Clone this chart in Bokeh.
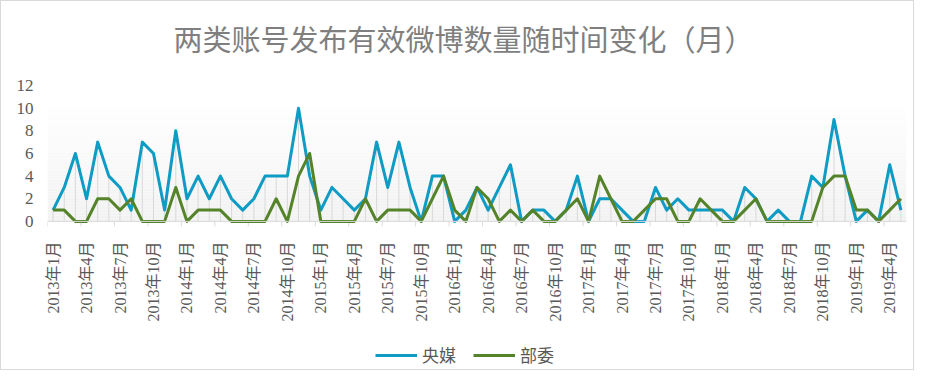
import math
from bokeh.plotting import figure
from bokeh.layouts import column
from bokeh.models import (FixedTicker, Legend, LegendItem, Span, Label)
from bokeh.embed import file_html
from bokeh.resources import INLINE

# ---- data -------------------------------------------------------------
months = list(range(77))  # 2013年1月 ... 2019年5月 (month index)
yangmei = [1, 3, 6, 2, 7, 4, 3, 1, 7, 6, 1, 8, 2, 4, 2, 4, 2, 1, 2, 4, 4, 4, 10, 4,
           1, 3, 2, 1, 2, 7, 3, 7, 3, 0, 4, 4, 0, 1, 3, 1, 3, 5, 0, 1, 1, 0, 1, 4,
           0, 2, 2, 1, 0, 0, 3, 1, 2, 1, 1, 1, 1, 0, 3, 2, 0, 1, 0, 0, 4, 3, 9, 4,
           0, 1, 0, 5, 1]
buwei = [1, 1, 0, 0, 2, 2, 1, 2, 0, 0, 0, 3, 0, 1, 1, 1, 0, 0, 0, 0, 2, 0, 4, 6,
         0, 0, 0, 0, 2, 0, 1, 1, 1, 0, 2, 4, 1, 0, 3, 2, 0, 1, 0, 1, 0, 0, 1, 2,
         0, 4, 2, 0, 0, 1, 2, 2, 0, 0, 2, 1, 0, 0, 1, 2, 0, 0, 0, 0, 0, 3, 4, 4,
         1, 1, 0, 1, 2]
tick_idx = [0, 3, 6, 9, 12, 15, 18, 21, 24, 27, 30, 33, 36, 39, 42, 45, 48, 51,
            54, 57, 60, 63, 66, 69, 72, 75]
tick_labels = ["2013年1月", "2013年4月", "2013年7月", "2013年10月",
               "2014年1月", "2014年4月", "2014年7月", "2014年10月",
               "2015年1月", "2015年4月", "2015年7月", "2015年10月",
               "2016年1月", "2016年4月", "2016年7月", "2016年10月",
               "2017年1月", "2017年4月", "2017年7月", "2017年10月",
               "2018年1月", "2018年4月", "2018年7月", "2018年10月",
               "2019年1月", "2019年4月"]
y_ticks = [0, 2, 4, 6, 8, 10, 12]
series_names = ["央媒", "部委"]
title_text = "两类账号发布有效微博数量随时间变化（月）"

BLUE = "#0E9BC4"
GREEN = "#55832A"
GRAY_TXT = "#595959"
SERIF = "Liberation Serif, Noto Sans CJK SC"
SANS = "Noto Sans CJK SC"

x_lo, x_hi = -0.5, len(months) - 0.5


def strip(h):
    f = figure(width=912, height=h, output_backend="svg", toolbar_location=None,
               x_range=(0, 1), y_range=(0, 1), x_axis_location=None,
               y_axis_location=None, min_border=0)
    f.outline_line_color = None
    f.xgrid.visible = False
    f.ygrid.visible = False
    f.border_fill_color = "white"
    f.background_fill_color = "white"
    return f


# ---- title strip ----------------------------------------------------------
t = strip(60)
t.add_layout(Label(x=416, y=24, x_units="screen", y_units="screen", text=title_text,
                   text_align="center", text_baseline="middle", text_font=SANS,
                   text_font_size="29px", text_color="#7f7f7f"))

# ---- main chart -----------------------------------------------------------
p = figure(width=912, height=264, output_backend="svg", toolbar_location=None,
           x_range=(x_lo, x_hi), y_range=(-0.45, 12),
           min_border_left=46, min_border_right=7, min_border_top=24,
           min_border_bottom=99)
p.outline_line_color = None
p.background_fill_color = "white"
p.border_fill_color = "white"
p.xgrid.visible = False
p.ygrid.visible = False

# gradient plot-area background (style only)
n_bands = 40
g_top = 10.6
bx0, bx1, by0, by1, bcol = [], [], [], [], []
for k in range(n_bands):
    tt = k / (n_bands - 1)
    c = int(round(0xF2 + (0xFF - 0xF2) * tt))
    bx0.append(x_lo); bx1.append(x_hi)
    by0.append(g_top * k / n_bands); by1.append(g_top * (k + 1) / n_bands)
    bcol.append("#%02x%02x%02x" % (c, c, c))
p.quad(left=bx0, right=bx1, bottom=by0, top=by1, fill_color=bcol, line_color=None)

# drop lines
tops = [max(a, b) for a, b in zip(yangmei, buwei)]
p.segment(x0=months, y0=[0] * len(months), x1=months, y1=tops,
          line_color="#d9d9d9", line_width=1)

# category axis line and boundary tick marks
p.add_layout(Span(location=0, dimension="width", line_color="#d9d9d9", line_width=1))
tb = [v - 0.5 for v in tick_idx] + [tick_idx[-1] + 2.5]
p.segment(x0=tb, y0=[0] * len(tb), x1=tb, y1=[-0.45] * len(tb),
          line_color="#d9d9d9", line_width=1)

r1 = p.line(months, yangmei, line_color=BLUE, line_width=3, line_join="round")
r2 = p.line(months, buwei, line_color=GREEN, line_width=3, line_join="round")

xa = p.xaxis[0]
xa.ticker = FixedTicker(ticks=tick_idx)
xa.major_label_overrides = {i: s for i, s in zip(tick_idx, tick_labels)}
xa.major_label_orientation = math.pi / 2
xa.axis_line_color = None
xa.major_tick_line_color = None
xa.minor_tick_line_color = None
xa.major_label_standoff = 9
xa.major_label_text_font = SERIF
xa.major_label_text_font_size = "16px"
xa.major_label_text_color = GRAY_TXT

ya = p.yaxis[0]
ya.ticker = FixedTicker(ticks=y_ticks)
ya.axis_line_color = None
ya.major_tick_line_color = None
ya.minor_tick_line_color = None
ya.major_label_standoff = 8
ya.major_label_text_font = SERIF
ya.major_label_text_font_size = "17px"
ya.major_label_text_color = GRAY_TXT

# ---- legend strip ---------------------------------------------------------
q = strip(44)
lr1 = q.line(x=[-5, -4], y=[-5, -5], line_color=BLUE, line_width=3)
lr2 = q.line(x=[-5, -4], y=[-5, -5], line_color=GREEN, line_width=3)
legend = Legend(items=[LegendItem(label=series_names[0], renderers=[lr1]),
                       LegendItem(label=series_names[1], renderers=[lr2])],
                orientation="horizontal", location=(328, 2),
                border_line_color=None, background_fill_alpha=0,
                label_text_font=SANS, label_text_font_size="17px",
                label_text_color=GRAY_TXT, glyph_width=42, glyph_height=20,
                label_standoff=5, spacing=17, padding=0, margin=0)
q.add_layout(legend, "center")

layout = column(t, p, q, spacing=0, styles={"border": "1px solid #d9d9d9"})
open("out.html", "w").write(file_html(layout, INLINE))
